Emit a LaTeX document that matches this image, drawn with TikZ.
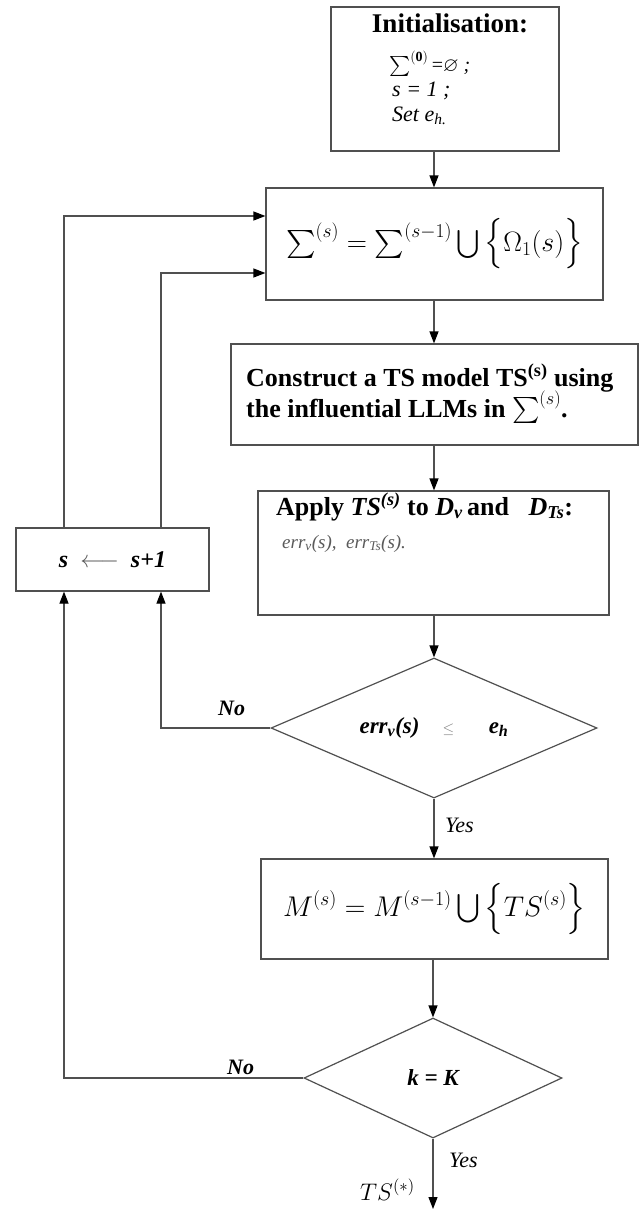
\RequirePackage{fix-cm}
\documentclass[tikz,border=0pt]{standalone}
\usepackage{amsmath,amssymb}
\usepackage{fontspec}
\setmainfont{Liberation Serif}
\usetikzlibrary{shapes.geometric,arrows.meta}
\definecolor{linec}{RGB}{80,80,80}
\definecolor{softtext}{RGB}{90,90,90}
\begin{document}
\begin{tikzpicture}[x=1pt,y=-1pt,
  box/.style={draw=linec, line width=1.2pt, rectangle, inner sep=0pt},
  dia/.style={draw=linec, line width=1.2pt, diamond, inner sep=0pt},
  arr/.style={draw=linec, line width=1.2pt, -{Triangle[length=12pt,width=9pt,color=black]}},
  lbl/.style={inner sep=0pt, anchor=base west}]
\fill[white] (0,0) rectangle (640,1210);
\useasboundingbox (0,0) rectangle (640,1210);

% Initialisation box
\node[box, minimum width=228pt, minimum height=144pt] (init) at (445,79) {};
\node[inner sep=0pt, anchor=base] (initA) at (450,32) {\fontsize{27}{30}\selectfont\bfseries Initialisation:};
\node[lbl] (initB) at (389,71) {\fontsize{20}{24}\selectfont $\textstyle\sum^{\mathbf{(0)}}$\,=$\varnothing$ \textit{;}};
\node[lbl] (initC) at (392,96) {\fontsize{22}{24}\selectfont\itshape s = 1 ;};
\node[lbl] (initD) at (392,121) {\fontsize{22}{24}\selectfont\itshape Set e\textsubscript{h.}};

% Sigma box
\node[box, minimum width=337pt, minimum height=112pt] (sig) at (434.5,244)
  {\fontsize{28}{30}\selectfont $\textstyle\sum^{(s)}=\sum^{(s-1)}\bigcup\Big\{\Omega_1(s)\Big\}$};

% Construct box
\node[box, minimum width=407pt, minimum height=101pt] (con) at (434.5,394.5) {};
\node[lbl] (conA) at (246,386) {\fontsize{26}{27}\selectfont\bfseries Construct a TS model TS\textsuperscript{(s)} using};
\node[lbl] (conB) at (246,417) {\fontsize{26}{27}\selectfont\bfseries the influential LLMs in {\mdseries$\textstyle\sum^{(s)}$}.};

% Apply box
\node[box, minimum width=351pt, minimum height=124pt] (app) at (433.5,553) {};
\node[lbl] (appA) at (276,515) {\fontsize{26}{30}\selectfont\bfseries Apply \textit{TS}\textsuperscript{\textit{(s)}} to \textit{D}\textsubscript{\textit{v}}\,and \ \ \textit{D}\textsubscript{\textit{Ts}}:};
\node[lbl, text=softtext] (appB) at (282,548) {\fontsize{19}{22}\selectfont\itshape err\textsubscript{v}(s), \ err\textsubscript{Ts}(s).};

% Decision 1
\node[dia, minimum width=326pt, minimum height=140pt, aspect=2.33] (d1) at (434,728)
  {\fontsize{23}{26}\selectfont\bfseries\itshape err\textsubscript{v}(s)\quad{\mdseries\upshape\color{gray}\fontsize{15}{18}\selectfont$\leq$}\quad\ \ e\textsubscript{h}};

% M box
\node[box, minimum width=347pt, minimum height=100pt] (M) at (434.5,909)
  {\fontsize{28.5}{30}\selectfont $M^{(s)} =M^{(s-1)}\bigcup\Big\{TS^{(s)}\Big\}$};

% Decision 2
\node[dia, minimum width=258pt, minimum height=120pt, aspect=2.15] (d2) at (433,1078)
  {\fontsize{23}{26}\selectfont\bfseries\itshape k = K};

% s <- s+1 box
\node[box, minimum width=193pt, minimum height=63pt] (sb) at (112.5,559.5)
  {\fontsize{24}{26}\selectfont\bfseries\itshape s\ \ {\mdseries\color{softtext}$\longleftarrow$}\ \ s+1};

% Labels
\node[lbl] (no1) at (218,715) {\fontsize{22}{24}\selectfont\bfseries\itshape No};
\node[lbl] (yes1) at (445,832) {\fontsize{22}{24}\selectfont\itshape Yes};
\node[lbl] (no2) at (227,1074) {\fontsize{22}{24}\selectfont\bfseries\itshape No};
\node[lbl] (yes2) at (449,1167) {\fontsize{22}{24}\selectfont\itshape Yes};
\node[lbl] (tsstar) at (360,1200) {\fontsize{24}{26}\selectfont $TS^{(*)}$};

% Coordinates
\coordinate (col) at (434,0);
\coordinate (xa) at (64,0);
\coordinate (xb) at (161,0);
\coordinate (ya) at (0,216);
\coordinate (yb) at (0,273);
\coordinate (end) at (433,1209);

% Main flow
\draw[arr] (init.south -| col) -- (sig.north -| col);
\draw[arr] (sig.south -| col) -- (con.north -| col);
\draw[arr] (con.south -| col) -- (app.north -| col);
\draw[arr] (app.south -| d1.north) -- (d1.north);
\draw[arr] (d1.south) -- (M.north -| d1.south);
\draw[arr] (M.south -| d2.north) -- (d2.north);
\draw[arr] (d2.south) -- (end);

% Loops
\draw[arr] (d1.west) -| (sb.south -| xb);
\draw[arr] (d2.west) -| (sb.south -| xa);
\draw[arr] (sb.north -| xa) |- (sig.west |- ya);
\draw[arr] (sb.north -| xb) |- (sig.west |- yb);
\end{tikzpicture}
\end{document}
